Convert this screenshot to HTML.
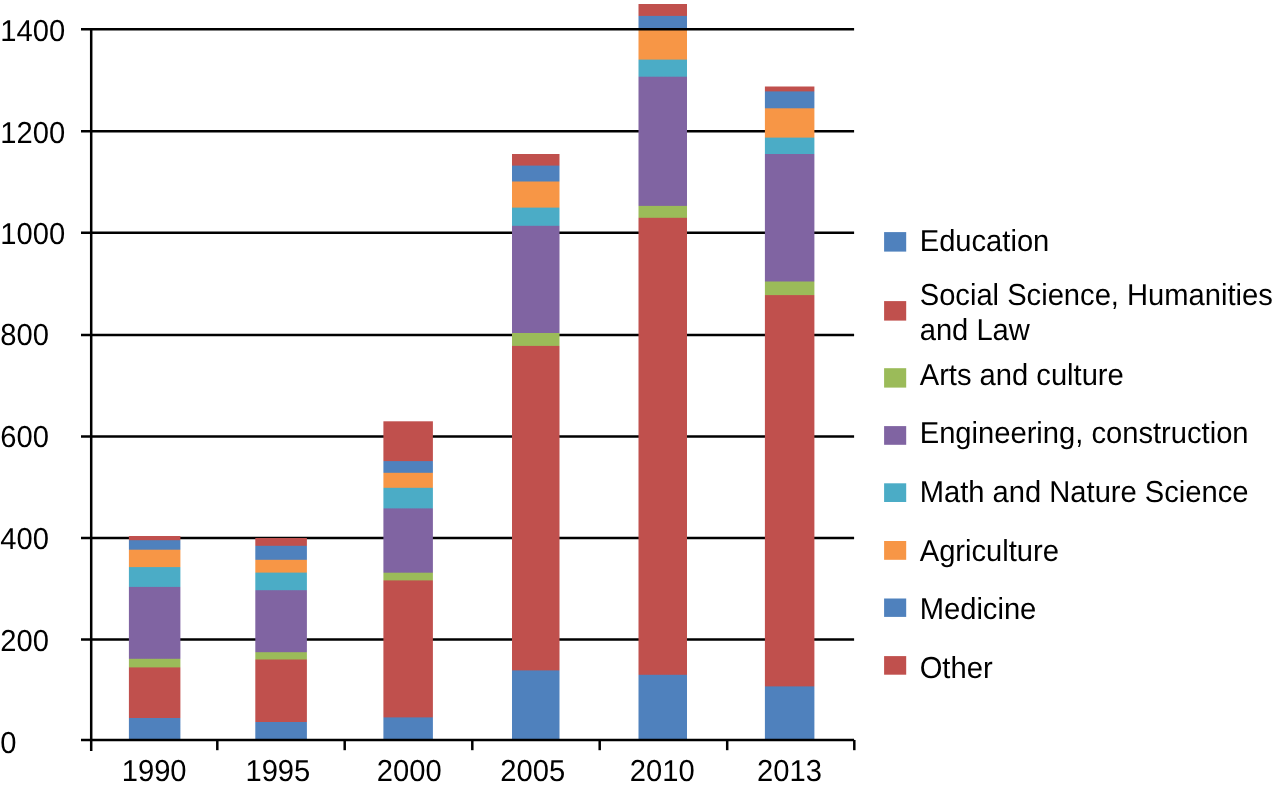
<!DOCTYPE html><html><head><meta charset="utf-8"><title>Chart</title><style>html,body{margin:0;padding:0;background:#fff;width:1275px;height:788px;overflow:hidden}svg{display:block}text{font-family:"Liberation Sans",sans-serif;fill:#000;font-size:29.15px;text-rendering:geometricPrecision}</style></head><body>
<svg width="1275" height="788" viewBox="0 0 1275 788">
<rect width="1275" height="788" fill="#fff"/>
<g stroke="#000" stroke-width="2.5">
<line x1="81" y1="131.2" x2="854.1" y2="131.2"/>
<line x1="81" y1="232.8" x2="854.1" y2="232.8"/>
<line x1="81" y1="334.9" x2="854.1" y2="334.9"/>
<line x1="81" y1="436.4" x2="854.1" y2="436.4"/>
<line x1="81" y1="537.9" x2="854.1" y2="537.9"/>
<line x1="81" y1="639.6" x2="854.1" y2="639.6"/>
</g>
<defs>
<linearGradient id="g0" gradientUnits="userSpaceOnUse" x1="0" y1="536.0" x2="0" y2="740.1"><stop offset="0" stop-color="#C0504D"/><stop offset="0.01813" stop-color="#C0504D"/><stop offset="0.02303" stop-color="#4F81BD"/><stop offset="0.06467" stop-color="#4F81BD"/><stop offset="0.06957" stop-color="#F79646"/><stop offset="0.14993" stop-color="#F79646"/><stop offset="0.15483" stop-color="#4BACC6"/><stop offset="0.24694" stop-color="#4BACC6"/><stop offset="0.25184" stop-color="#8064A2"/><stop offset="0.59922" stop-color="#8064A2"/><stop offset="0.60412" stop-color="#9BBB59"/><stop offset="0.64135" stop-color="#9BBB59"/><stop offset="0.64625" stop-color="#C0504D"/><stop offset="0.88927" stop-color="#C0504D"/><stop offset="0.89417" stop-color="#4F81BD"/><stop offset="1" stop-color="#4F81BD"/></linearGradient>
<linearGradient id="g1" gradientUnits="userSpaceOnUse" x1="0" y1="538.0" x2="0" y2="740.1"><stop offset="0" stop-color="#C0504D"/><stop offset="0.03612" stop-color="#C0504D"/><stop offset="0.04107" stop-color="#4F81BD"/><stop offset="0.10539" stop-color="#4F81BD"/><stop offset="0.11034" stop-color="#F79646"/><stop offset="0.16873" stop-color="#F79646"/><stop offset="0.17368" stop-color="#4BACC6"/><stop offset="0.25581" stop-color="#4BACC6"/><stop offset="0.26076" stop-color="#8064A2"/><stop offset="0.56259" stop-color="#8064A2"/><stop offset="0.56754" stop-color="#9BBB59"/><stop offset="0.59871" stop-color="#9BBB59"/><stop offset="0.60366" stop-color="#C0504D"/><stop offset="0.90797" stop-color="#C0504D"/><stop offset="0.91291" stop-color="#4F81BD"/><stop offset="1" stop-color="#4F81BD"/></linearGradient>
<linearGradient id="g2" gradientUnits="userSpaceOnUse" x1="0" y1="421.3" x2="0" y2="740.1"><stop offset="0" stop-color="#C0504D"/><stop offset="0.12327" stop-color="#C0504D"/><stop offset="0.12641" stop-color="#4F81BD"/><stop offset="0.15997" stop-color="#4F81BD"/><stop offset="0.16311" stop-color="#F79646"/><stop offset="0.20703" stop-color="#F79646"/><stop offset="0.21016" stop-color="#4BACC6"/><stop offset="0.27164" stop-color="#4BACC6"/><stop offset="0.27478" stop-color="#8064A2"/><stop offset="0.47334" stop-color="#8064A2"/><stop offset="0.47647" stop-color="#9BBB59"/><stop offset="0.49749" stop-color="#9BBB59"/><stop offset="0.50063" stop-color="#C0504D"/><stop offset="0.92723" stop-color="#C0504D"/><stop offset="0.93036" stop-color="#4F81BD"/><stop offset="1" stop-color="#4F81BD"/></linearGradient>
<linearGradient id="g3" gradientUnits="userSpaceOnUse" x1="0" y1="154.0" x2="0" y2="740.1"><stop offset="0" stop-color="#C0504D"/><stop offset="0.01894" stop-color="#C0504D"/><stop offset="0.02064" stop-color="#4F81BD"/><stop offset="0.04607" stop-color="#4F81BD"/><stop offset="0.04777" stop-color="#F79646"/><stop offset="0.0906" stop-color="#F79646"/><stop offset="0.09231" stop-color="#4BACC6"/><stop offset="0.12165" stop-color="#4BACC6"/><stop offset="0.12336" stop-color="#8064A2"/><stop offset="0.30456" stop-color="#8064A2"/><stop offset="0.30626" stop-color="#9BBB59"/><stop offset="0.32657" stop-color="#9BBB59"/><stop offset="0.32827" stop-color="#C0504D"/><stop offset="0.88023" stop-color="#C0504D"/><stop offset="0.88193" stop-color="#4F81BD"/><stop offset="1" stop-color="#4F81BD"/></linearGradient>
<linearGradient id="g4" gradientUnits="userSpaceOnUse" x1="0" y1="4.0" x2="0" y2="740.1"><stop offset="0" stop-color="#C0504D"/><stop offset="0.01549" stop-color="#C0504D"/><stop offset="0.01685" stop-color="#4F81BD"/><stop offset="0.03328" stop-color="#4F81BD"/><stop offset="0.03464" stop-color="#F79646"/><stop offset="0.07485" stop-color="#F79646"/><stop offset="0.07621" stop-color="#4BACC6"/><stop offset="0.09808" stop-color="#4BACC6"/><stop offset="0.09944" stop-color="#8064A2"/><stop offset="0.2736" stop-color="#8064A2"/><stop offset="0.27496" stop-color="#9BBB59"/><stop offset="0.28977" stop-color="#9BBB59"/><stop offset="0.29113" stop-color="#C0504D"/><stop offset="0.91061" stop-color="#C0504D"/><stop offset="0.91197" stop-color="#4F81BD"/><stop offset="1" stop-color="#4F81BD"/></linearGradient>
<linearGradient id="g5" gradientUnits="userSpaceOnUse" x1="0" y1="86.5" x2="0" y2="740.1"><stop offset="0" stop-color="#C0504D"/><stop offset="0.00673" stop-color="#C0504D"/><stop offset="0.00826" stop-color="#4F81BD"/><stop offset="0.03259" stop-color="#4F81BD"/><stop offset="0.03412" stop-color="#F79646"/><stop offset="0.07742" stop-color="#F79646"/><stop offset="0.07895" stop-color="#4BACC6"/><stop offset="0.10251" stop-color="#4BACC6"/><stop offset="0.10404" stop-color="#8064A2"/><stop offset="0.29758" stop-color="#8064A2"/><stop offset="0.29911" stop-color="#9BBB59"/><stop offset="0.31839" stop-color="#9BBB59"/><stop offset="0.31992" stop-color="#C0504D"/><stop offset="0.91707" stop-color="#C0504D"/><stop offset="0.9186" stop-color="#4F81BD"/><stop offset="1" stop-color="#4F81BD"/></linearGradient>
</defs>
<rect x="128.9" y="536.0" width="51.5" height="204.1" fill="url(#g0)"/>
<rect x="255.3" y="538.0" width="51.6" height="202.1" fill="url(#g1)"/>
<rect x="383.4" y="421.3" width="49.5" height="318.8" fill="url(#g2)"/>
<rect x="512.0" y="154.0" width="47.5" height="586.1" fill="url(#g3)"/>
<rect x="638.5" y="4.0" width="48.5" height="736.1" fill="url(#g4)"/>
<rect x="764.9" y="86.5" width="49.5" height="653.6" fill="url(#g5)"/>
<g stroke="#000" stroke-width="2.5">
<line x1="81" y1="29.2" x2="854.1" y2="29.2"/>
<line x1="81" y1="740.1" x2="854.1" y2="740.1"/>
<line x1="91.2" y1="27.95" x2="91.2" y2="751"/>
<line x1="217.3" y1="740" x2="217.3" y2="750.2"/>
<line x1="344.7" y1="740" x2="344.7" y2="750.2"/>
<line x1="472.3" y1="740" x2="472.3" y2="750.2"/>
<line x1="599.7" y1="740" x2="599.7" y2="750.2"/>
<line x1="727.2" y1="740" x2="727.2" y2="750.2"/>
<line x1="854.3" y1="740" x2="854.3" y2="750.2"/>
</g>
<g style="will-change:transform">
<text transform="translate(0.3 41.05) scale(1 1.04)">1400</text>
<text transform="translate(0.3 142.5) scale(1 1.04)">1200</text>
<text transform="translate(0.3 244.0) scale(1 1.04)">1000</text>
<text transform="translate(0.3 345.4) scale(1 1.04)">800</text>
<text transform="translate(0.3 447.3) scale(1 1.04)">600</text>
<text transform="translate(0.3 548.9) scale(1 1.04)">400</text>
<text transform="translate(0.3 650.9) scale(1 1.04)">200</text>
<text transform="translate(0.3 752.9) scale(1 1.04)">0</text>
<text transform="translate(121.74 781.4) scale(1 1.04)">1990</text>
<text transform="translate(245.43 781.4) scale(1 1.04)">1995</text>
<text transform="translate(376.81 781.2) scale(1 1.04)">2000</text>
<text transform="translate(500.26 781.2) scale(1 1.04)">2005</text>
<text transform="translate(629.86 781.3) scale(1 1.04)">2010</text>
<text transform="translate(757.08 781.3) scale(1 1.04)">2013</text>
<rect x="884.1" y="232.1" width="22.1" height="19.5" fill="#4F81BD"/>
<text transform="translate(919.7 250.9) scale(1 1.04)">Education</text>
<rect x="884.1" y="301.1" width="22.1" height="19.5" fill="#C0504D"/>
<text transform="translate(919.7 305.0) scale(1 1.04)">Social Science, Humanities</text>
<text transform="translate(919.7 339.9) scale(1 1.04)">and Law</text>
<rect x="884.1" y="368.2" width="22.1" height="19.4" fill="#9BBB59"/>
<text transform="translate(919.7 384.8) scale(1 1.04)">Arts and culture</text>
<rect x="884.1" y="426.1" width="22.1" height="18.7" fill="#8064A2"/>
<text transform="translate(919.7 442.9) scale(1 1.04)">Engineering, construction</text>
<rect x="884.1" y="483.3" width="22.1" height="18.7" fill="#4BACC6"/>
<text transform="translate(919.7 501.9) scale(1 1.04)">Math and Nature Science</text>
<rect x="884.1" y="541.0" width="22.1" height="18.8" fill="#F79646"/>
<text transform="translate(919.7 560.5) scale(1 1.04)">Agriculture</text>
<rect x="884.1" y="598.5" width="22.1" height="18.4" fill="#4F81BD"/>
<text transform="translate(919.7 619.2) scale(1 1.04)">Medicine</text>
<rect x="884.1" y="656.1" width="22.1" height="18.6" fill="#C0504D"/>
<text transform="translate(919.7 677.7) scale(1 1.04)">Other</text>
</g>
</svg></body></html>
